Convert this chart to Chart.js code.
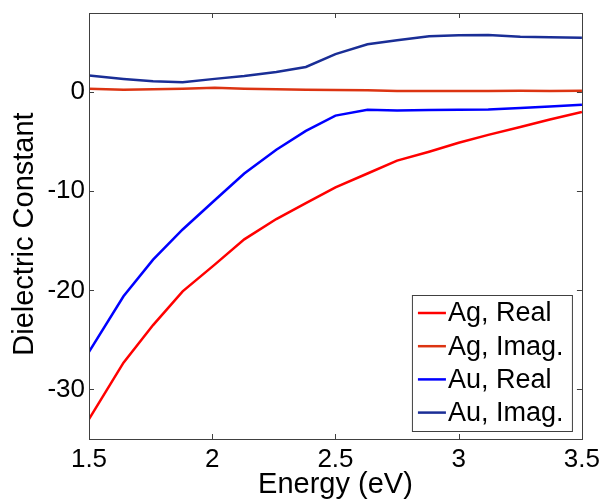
<!DOCTYPE html>
<html lang="en">
<head>
<meta charset="UTF-8" />
<title>Dielectric Constant</title>
<script src="https://cdn.jsdelivr.net/npm/chart.js"></script>
<style>
  html, body { margin: 0; padding: 0; background: #fff; }
  #wrap { width: 605px; height: 501px; }
</style>
</head>
<body>
<div id="wrap"><canvas id="chart" width="605" height="501"></canvas></div>
<script>
// photon energy (eV) and dielectric constants
const energy = [1.5, 1.64, 1.76, 1.88, 2.01, 2.13, 2.26, 2.38, 2.5, 2.63, 2.75, 2.88, 3.0, 3.12, 3.25, 3.37, 3.5];
const agReal = [-33.0, -27.3, -23.5, -20.1, -17.4, -14.85, -12.8, -11.2, -9.6, -8.2, -6.9, -6.0, -5.1, -4.3, -3.5, -2.75, -2.0];
const agImag = [0.35, 0.25, 0.3, 0.35, 0.45, 0.35, 0.3, 0.25, 0.22, 0.2, 0.12, 0.12, 0.13, 0.12, 0.15, 0.13, 0.15];
const auReal = [-26.2, -20.6, -16.9, -13.85, -10.9, -8.2, -5.8, -3.9, -2.36, -1.76, -1.85, -1.8, -1.77, -1.75, -1.6, -1.43, -1.25];
const auImag = [1.7, 1.35, 1.1, 1.0, 1.35, 1.65, 2.05, 2.55, 3.85, 4.85, 5.25, 5.65, 5.75, 5.78, 5.6, 5.55, 5.5];

const xTicks = [1.5, 2, 2.5, 3, 3.5];
const yTicks = [-30, -20, -10, 0];
const seriesNames = ['Ag, Real', 'Ag, Imag.', 'Au, Real', 'Au, Imag.'];
const seriesColors = ['#ff0000', '#dc3412', '#0000ff', '#1a2e96'];

const FONT = "'Liberation Sans', Arial, sans-serif";
const FRAME = '#404040';

function toPoints(ys) {
  return energy.map((e, i) => ({ x: e, y: ys[i] }));
}

// box around the axes with inward ticks on all four sides
const frameBox = {
  id: 'frameBox',
  afterDatasetsDraw(chart) {
    const { ctx, chartArea: a, scales } = chart;
    const t = 5;
    ctx.save();
    ctx.strokeStyle = FRAME;
    ctx.lineWidth = 1;
    ctx.strokeRect(Math.round(a.left) + 0.5, Math.round(a.top) + 0.5,
      Math.round(a.right - a.left), Math.round(a.bottom - a.top));
    ctx.beginPath();
    xTicks.forEach(v => {
      const px = Math.round(scales.x.getPixelForValue(v)) + 0.5;
      ctx.moveTo(px, a.bottom); ctx.lineTo(px, a.bottom - t);
      ctx.moveTo(px, a.top); ctx.lineTo(px, a.top + t);
    });
    yTicks.forEach(v => {
      const py = Math.round(scales.y.getPixelForValue(v)) + 0.5;
      ctx.moveTo(a.left, py); ctx.lineTo(a.left + t, py);
      ctx.moveTo(a.right, py); ctx.lineTo(a.right - t, py);
    });
    ctx.stroke();
    ctx.restore();
  }
};

// legend drawn inside the plot, lower right
const insideLegend = {
  id: 'insideLegend',
  afterDraw(chart) {
    const { ctx, chartArea: a } = chart;
    const w = 160, h = 136;
    const x0 = a.right - 10 - w, y0 = a.bottom - 8 - h;
    ctx.save();
    ctx.fillStyle = '#fff';
    ctx.fillRect(x0, y0, w, h);
    ctx.strokeStyle = FRAME;
    ctx.lineWidth = 1;
    ctx.strokeRect(x0 + 0.5, y0 + 0.5, w, h);
    ctx.font = '27px ' + FONT;
    ctx.textBaseline = 'middle';
    chart.data.datasets.forEach((ds, i) => {
      const cy = y0 + 18 + i * 33.2;
      ctx.strokeStyle = ds.borderColor;
      ctx.lineWidth = 2.5;
      ctx.beginPath();
      ctx.moveTo(x0 + 6, cy);
      ctx.lineTo(x0 + 34, cy);
      ctx.stroke();
      ctx.fillStyle = '#000';
      ctx.fillText(ds.label, x0 + 36, cy + 1);
    });
    ctx.restore();
  }
};

new Chart(document.getElementById('chart'), {
  type: 'line',
  data: {
    datasets: [agReal, agImag, auReal, auImag].map((ys, i) => ({
      label: seriesNames[i],
      data: toPoints(ys),
      borderColor: seriesColors[i],
      backgroundColor: seriesColors[i],
      borderWidth: 2.5,
      pointRadius: 0,
      tension: 0,
      fill: false
    }))
  },
  options: {
    responsive: false,
    animation: false,
    layout: { padding: { top: 13, right: 22, left: 0, bottom: 0 } },
    plugins: { legend: { display: false }, tooltip: { enabled: false } },
    scales: {
      x: {
        type: 'linear',
        min: 1.5,
        max: 3.5,
        afterBuildTicks: axis => { axis.ticks = xTicks.map(v => ({ value: v })); },
        afterFit: axis => { axis.height = 62; },
        grid: { display: false, drawTicks: false },
        border: { display: false },
        ticks: {
          color: '#000',
          padding: 5,
          maxRotation: 0,
          font: { family: FONT, size: 26 },
          callback: v => String(v)
        },
        title: {
          display: true,
          text: 'Energy (eV)',
          color: '#000',
          font: { family: FONT, size: 29, lineHeight: 1.2 },
          padding: { top: 0, bottom: -1 }
        }
      },
      y: {
        type: 'linear',
        min: -35,
        max: 8,
        afterBuildTicks: axis => { axis.ticks = yTicks.map(v => ({ value: v })); },
        afterFit: axis => {
          axis.width = 89;
          axis.paddingTop = 0;
          axis.paddingBottom = 0;
        },
        grid: { display: false, drawTicks: false },
        border: { display: false },
        ticks: {
          color: '#000',
          padding: 4,
          font: { family: FONT, size: 26 },
          callback: v => String(v)
        },
        title: {
          display: true,
          // two trailing spaces nudge the centred label down a bit, like the original
          text: 'Dielectric Constant  ',
          color: '#000',
          font: { family: FONT, size: 29, lineHeight: 1.2 },
          padding: { top: 8, bottom: 0 }
        }
      }
    }
  },
  plugins: [frameBox, insideLegend]
});
</script>
</body>
</html>
